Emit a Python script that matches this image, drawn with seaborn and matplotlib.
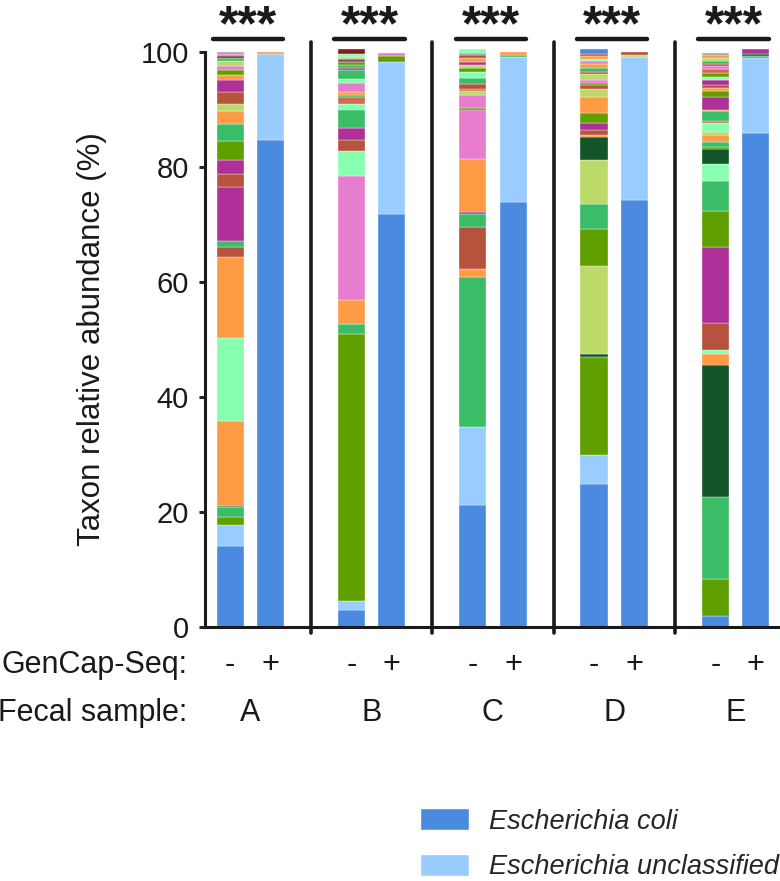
import numpy as np
import pandas as pd
import matplotlib
matplotlib.use("Agg")
import matplotlib.pyplot as plt
from matplotlib.patches import Patch
import seaborn as sns

# ---------------------------------
# DATA (cumulative tops, % , read bottom -> top)
# ---------------------------------

samples = ["A", "B", "C", "D", "E"]
gencap = ["-", "+"]
significance = ["***", "***", "***", "***", "***"]

a_minus_tops = [14.1, 17.8, 19.2, 20.8, 21.0, 35.9, 50.3, 64.4, 66.1, 67.1, 76.5, 78.8, 81.2,
                84.5, 87.5, 89.8, 90.9, 93.0, 95.1, 96.0, 96.9, 97.6, 98.4, 98.9, 99.3, 99.6, 100.0]
a_minus_cols = "BLOGDRMRNGPNPOGRYNPROKYGXKQ"
a_plus_tops = [84.7, 99.6, 100.0]
a_plus_cols = "BLR"

b_minus_tops = [2.9, 4.5, 50.9, 52.7, 56.8, 78.5, 82.7, 84.7, 86.7, 90.0, 91.0, 92.1, 92.5,
                93.0, 94.6, 95.3, 96.8, 97.3, 97.8, 98.3, 98.7, 99.2, 99.6, 100.5]
b_minus_cols = "BLOGRKMNPGMCGRKMGPGOPYMX"
b_plus_tops = [71.8, 98.2, 99.3, 99.8]
b_plus_cols = "BLOK"

c_minus_tops = [21.2, 34.7, 60.9, 62.3, 69.6, 71.8, 72.1, 81.4, 90.0, 90.2, 92.5, 93.2, 93.6,
                94.4, 95.5, 96.6, 97.3, 97.7, 98.2, 98.9, 99.4, 99.9, 100.5]
c_minus_cols = "BLGRNGPRKOKYCNGMOYPRNQM"
c_plus_tops = [73.9, 99.1, 99.5, 100.0]
c_plus_cols = "BLGR"

d_minus_tops = [24.9, 29.9, 46.9, 47.5, 62.7, 69.2, 73.5, 81.3, 85.3, 85.6, 86.4, 87.7, 89.4,
                92.1, 93.6, 94.3, 94.6, 95.2, 96.2, 96.6, 97.2, 97.9, 98.4, 98.8, 99.3, 99.7, 100.5]
d_minus_cols = "BLODYOGYDRNPORYNOKYNGRKMRNB"
d_plus_tops = [74.2, 99.1, 99.5, 100.0]
d_plus_cols = "BLYN"

e_minus_tops = [2.0, 8.4, 22.6, 45.5, 47.5, 48.1, 52.8, 66.1, 72.3, 77.5, 80.6, 83.1, 83.4,
                84.4, 85.6, 86.1, 87.6, 88.0, 89.7, 90.0, 92.2, 93.2, 93.7, 94.2, 95.2, 95.6,
                96.4, 97.0, 97.5, 98.0, 98.5, 99.0, 99.4, 99.8]
e_minus_cols = "BOGDRMNPOGMDOGRYMCGRPORNPMOCKNGYRQ"
e_plus_tops = [85.9, 98.9, 99.3, 99.6, 100.5]
e_plus_cols = "BLGDP"

legend_labels = ["Escherichia coli", "Escherichia unclassified"]

# colour per taxon code
palette = {
    "B": "#4A8BE0",  # Escherichia coli
    "L": "#99CCFF",  # Escherichia unclassified
    "O": "#5FA000",
    "G": "#3BBD68",
    "M": "#88FFB0",
    "R": "#FF9A45",
    "N": "#B5533C",
    "P": "#B0309A",
    "K": "#E87DD0",
    "D": "#13562A",
    "Y": "#BCD96A",
    "C": "#D4694E",
    "X": "#8B1A1A",
    "Q": "#A0A0A0",
}

bars = [
    (a_minus_tops, a_minus_cols), (a_plus_tops, a_plus_cols),
    (b_minus_tops, b_minus_cols), (b_plus_tops, b_plus_cols),
    (c_minus_tops, c_minus_cols), (c_plus_tops, c_plus_cols),
    (d_minus_tops, d_minus_cols), (d_plus_tops, d_plus_cols),
    (e_minus_tops, e_minus_cols), (e_plus_tops, e_plus_cols),
]

# long table of segments
rows = []
for i, (tops, cols) in enumerate(bars):
    g = i // 2
    pos = 3 * g + (i % 2)
    tops = np.array(tops)
    bottoms = np.concatenate([[0], tops[:-1]])
    for t, b, c in zip(tops, bottoms, cols):
        rows.append({"x": pos, "bottom": b, "height": t - b, "code": c})
seg = pd.DataFrame(rows)

# ---------------------------------
# PLOT
# ---------------------------------

sns.set_style("ticks")
plt.rcParams["font.family"] = ["Liberation Sans", "DejaVu Sans"]

fig = plt.figure(figsize=(7.8, 8.81), dpi=100)
ax = fig.add_axes([205 / 780, 1 - 627 / 881, (780 - 205) / 780, (627 - 52) / 881])

ax.bar(
    seg["x"], seg["height"], bottom=seg["bottom"], width=0.67,
    color=[palette[c] for c in seg["code"]],
    edgecolor="white", linewidth=0.25, clip_on=False, zorder=2,
)

ax.set_xlim(-0.62, 13.6)
ax.set_ylim(0, 100)
ax.set_yticks([0, 20, 40, 60, 80, 100])
ax.set_xticks([])
ax.tick_params(axis="y", direction="out", length=4.5, width=2.2, labelsize=21,
               pad=7, labelcolor="#1a1a1a")
sns.despine(ax=ax, top=True, right=True)
for side in ["left", "bottom"]:
    ax.spines[side].set_linewidth(2.2)
    ax.spines[side].set_color("#1a1a1a")

ax.set_ylabel("Taxon relative abundance (%)", fontsize=22.5, labelpad=24, color="#1a1a1a")

# separators between samples
for g in range(4):
    ax.plot([3 * g + 2, 3 * g + 2], [-1.0, 101.8], color="#1a1a1a", lw=2.6,
            solid_capstyle="round", clip_on=False)

# significance bars + stars
for g, s in enumerate(significance):
    x0 = 3 * g
    ax.plot([x0 - 0.42, x0 + 1.32], [102.3, 102.3], color="#1a1a1a", lw=3.2,
            solid_capstyle="round", clip_on=False)
    ax.text(x0 + 0.45, 102.1, s, ha="center", va="baseline", fontsize=36,
            fontweight="bold", color="#1a1a1a", clip_on=False)

# x annotations
y_gc = -6.6
y_fs = -14.9
ax.text(-0.03, y_gc, "GenCap-Seq:", transform=ax.get_yaxis_transform(), ha="right",
        va="center", fontsize=22, color="#1a1a1a")
ax.text(-0.03, y_fs, "Fecal sample:", transform=ax.get_yaxis_transform(), ha="right",
        va="center", fontsize=22, color="#1a1a1a")
for g, name in enumerate(samples):
    for j, sign in enumerate(gencap):
        ax.text(3 * g + j, y_gc, sign, ha="center", va="center", fontsize=22,
                color="#1a1a1a", clip_on=False)
    ax.text(3 * g + 0.5, y_fs, name, ha="center", va="center", fontsize=22,
            color="#1a1a1a", clip_on=False)

# legend
handles = [Patch(facecolor=palette["B"]), Patch(facecolor=palette["L"])]
fig.legend(
    handles, legend_labels, loc="upper left", bbox_to_anchor=(420 / 780, 1 - 808 / 881),
    frameon=False, prop={"size": 19.5, "style": "italic"}, borderpad=0, borderaxespad=0,
    handlelength=1.8, handleheight=0.9, handletextpad=0.75, labelspacing=0.7,
)

fig.savefig("out.png", dpi=100)
